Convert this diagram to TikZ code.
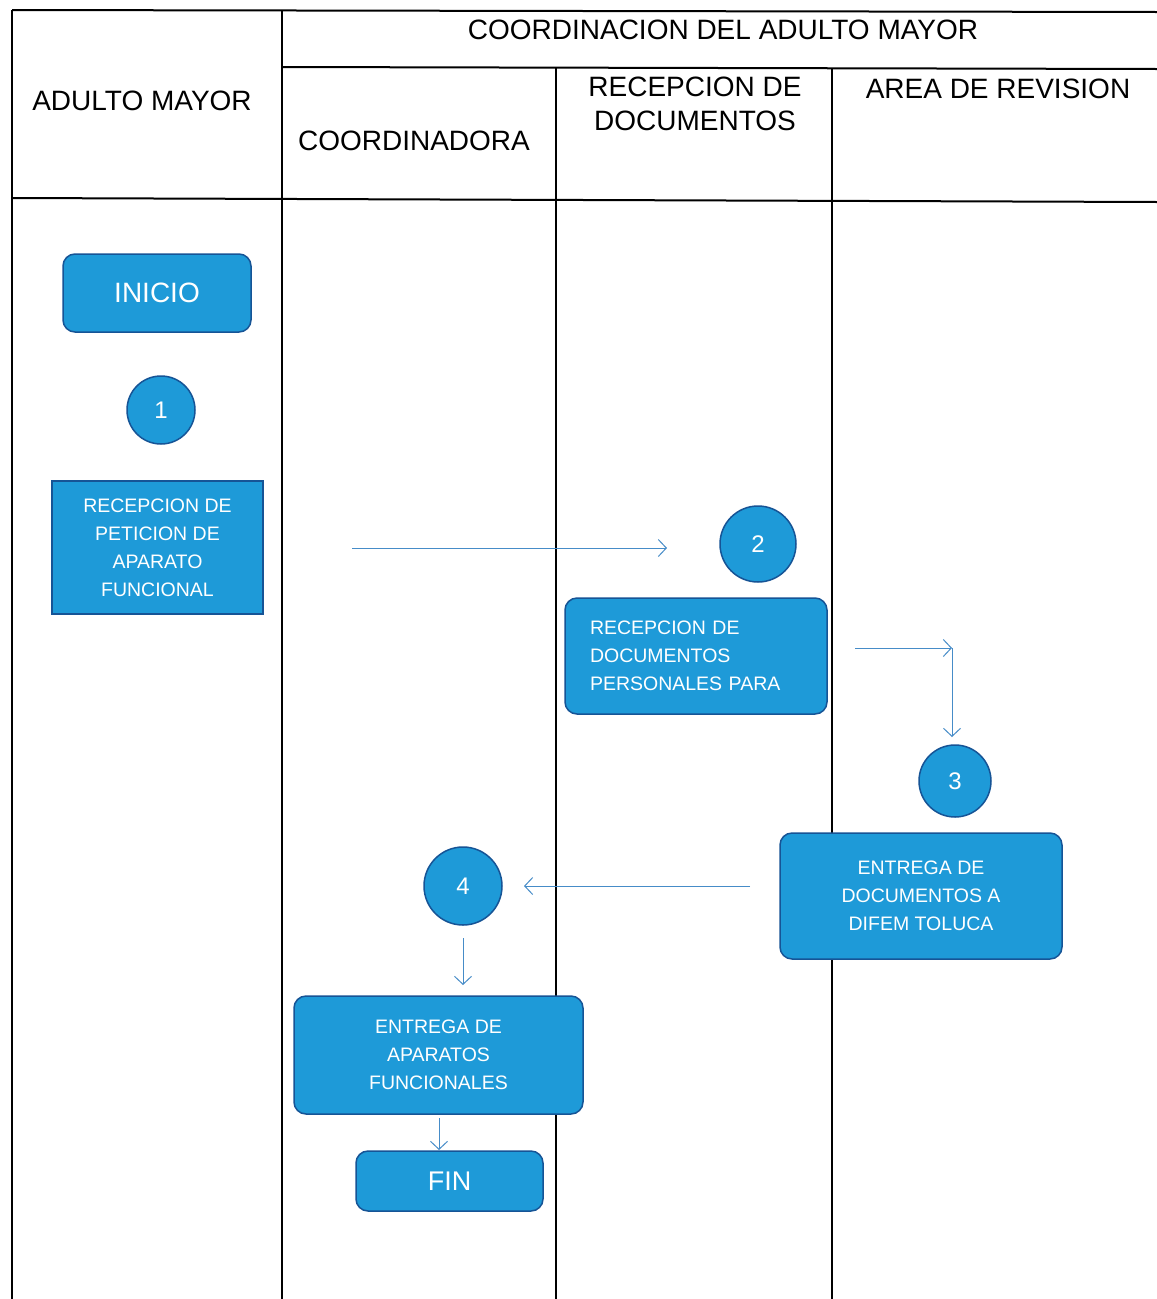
\documentclass[tikz,border=0pt]{standalone}
\usepackage{fontspec}
\setmainfont{Liberation Sans}
\usetikzlibrary{arrows.meta}
\definecolor{boxfill}{RGB}{30,154,216}
\definecolor{boxline}{RGB}{22,84,150}
\definecolor{arrowc}{RGB}{70,140,200}
\tikzset{
  grid/.style={line width=2pt, black},
  head/.style={font=\fontsize{28}{32}\selectfont, text=black, align=center},
  procbox/.style={draw=boxline, line width=1.5pt, fill=boxfill, text=white, rounded corners=12pt, align=center, font=\fontsize{19.5}{28}\selectfont, inner sep=0pt},
  sqbox/.style={procbox, rounded corners=0pt},
  numc/.style={circle, draw=boxline, line width=1.5pt, fill=boxfill, text=white, font=\fontsize{24}{28}\selectfont, inner sep=0pt},
  flow/.style={draw=arrowc, line width=1pt, -{Straight Barb[length=8pt,width=17pt]}},
}
\begin{document}
\begin{tikzpicture}[x=1pt,y=-1pt]
\fill[white] (0,0) rectangle (1157,1299);
\useasboundingbox (0,0) rectangle (1157,1299);
% table
\draw[grid] (12,10) -- (1157,12);
\draw[grid] (12,10) -- (12,1299);
\draw[grid] (282,10) -- (282,1299);
\draw[grid] (282,67) -- (1157,69);
\draw[grid] (12,198) -- (1157,202);
\draw[grid] (556,67) -- (556,1299);
\draw[grid] (832,69) -- (832,1299);
% headers
\node[head] (hcoord) at (723,30) {COORDINACION DEL ADULTO MAYOR};
\node[head] (hadulto) at (142,101) {ADULTO MAYOR};
\node[head] (hcoordinadora) at (414,141) {COORDINADORA};
\node[head, font=\fontsize{28}{34}\selectfont] (hrecep) at (695,104) {RECEPCION DE\\DOCUMENTOS};
\node[head] (harea) at (998,89) {AREA DE REVISION};
% nodes
\node[procbox, minimum width=188pt, minimum height=78pt, font=\fontsize{28}{32}\selectfont] (inicio) at (157,293) {INICIO};
\node[numc, minimum size=68pt] (n1) at (161,410) {1};
\node[sqbox, minimum width=211pt, minimum height=133pt] (b1) at (157.5,547.5) {RECEPCION DE\\PETICION DE\\APARATO\\FUNCIONAL};
\node[numc, minimum size=76pt] (n2) at (758,544) {2};
\node[procbox, minimum width=262pt, minimum height=116pt, align=left, text width=212pt] (b2) at (696,656) {RECEPCION DE\\DOCUMENTOS\\PERSONALES PARA};
\node[numc, minimum size=72pt] (n3) at (955,781) {3};
\node[procbox, minimum width=282pt, minimum height=126pt] (b3) at (921,896) {ENTREGA DE\\DOCUMENTOS A\\DIFEM TOLUCA};
\node[numc, minimum size=78pt] (n4) at (463,886) {4};
\node[procbox, minimum width=289pt, minimum height=118pt] (b4) at (438.5,1055) {ENTREGA DE\\APARATOS\\FUNCIONALES};
\node[procbox, minimum width=187pt, minimum height=60pt, font=\fontsize{27}{32}\selectfont] (fin) at (449.5,1181) {FIN};
% connectors
\coordinate (a1s) at (352,548);
\coordinate (a1e) at (667,548);
\draw[flow] (a1s) -- (a1e);
\coordinate (a2s) at (855,648);
\coordinate (a2c) at (952,648);
\coordinate (a2e) at (952,737);
\draw[flow] (a2s) -- (a2c);
\draw[flow] (a2c) -- (a2e);
\coordinate (a3s) at (750,886);
\coordinate (a3e) at (524,886);
\draw[flow] (a3s) -- (a3e);
\coordinate (a4s) at (463,938);
\coordinate (a4e) at (463,985);
\draw[flow] (a4s) -- (a4e);
\coordinate (a5s) at (439,1118);
\coordinate (a5e) at (439,1150);
\draw[flow] (a5s) -- (a5e);
\end{tikzpicture}
\end{document}
